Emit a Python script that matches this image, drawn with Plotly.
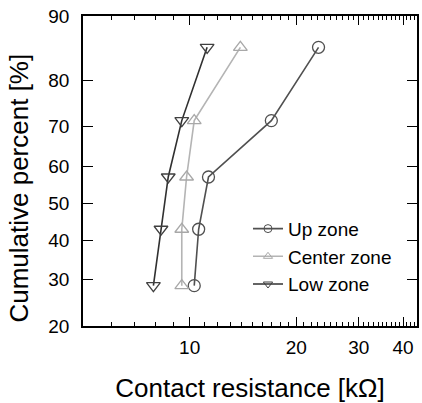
import math
from statistics import NormalDist
import plotly.graph_objects as go

# Data
cum_percent = [28.6, 42.9, 57.1, 71.4, 85.7]
up_zone = [10.3, 10.6, 11.3, 17.0, 23.1]
center_zone = [9.5, 9.5, 9.8, 10.3, 13.9]
low_zone = [7.9, 8.3, 8.7, 9.5, 11.2]

y_tick_percent = [20, 30, 40, 50, 60, 70, 80, 90]
x_tick_vals = [10, 20, 30, 40]
x_minor_vals = [6, 7, 8, 9] + list(range(11, 20)) + list(range(21, 30)) + list(range(31, 40)) + [41, 42, 43]

nd = NormalDist()
def z(p):
    return nd.inv_cdf(p / 100.0)

yz = [z(p) for p in cum_percent]

series = [
    ("Up zone", up_zone, "circle-open", "#505050", "#505050"),
    ("Center zone", center_zone, "triangle-up-open", "#b4b4b4", "#a8a8a8"),
    ("Low zone", low_zone, "triangle-down-open", "#303030", "#404040"),
]

fig = go.Figure()
for name, xs, sym, lc, mc in series:
    fig.add_trace(go.Scatter(
        x=xs, y=yz, name=name, mode="lines+markers", showlegend=False,
        line=dict(color=lc, width=1.6),
        marker=dict(symbol=sym, size=12, color=mc, line=dict(width=1.3, color=mc)),
    ))
# legend entries with smaller symbols, as in the reference
for name, xs, sym, lc, mc in series:
    fig.add_trace(go.Scatter(
        x=[None], y=[None], name=name, mode="lines+markers", showlegend=True,
        line=dict(color=lc, width=1.6),
        marker=dict(symbol=sym, size=8, color=mc, line=dict(width=1, color=mc)),
    ))

font_family = "Liberation Sans, Arial, sans-serif"
fig.update_layout(
    width=422, height=403,
    margin=dict(l=83, r=3, t=16, b=77),
    paper_bgcolor="white", plot_bgcolor="white",
    font=dict(family=font_family, color="black", size=19),
    showlegend=True,
    legend=dict(x=0.494, y=0.375, xanchor="left", yanchor="top",
                bgcolor="rgba(0,0,0,0)", font=dict(size=19),
                tracegroupgap=0, itemsizing="trace", itemwidth=30),
    annotations=[dict(
        text="Cumulative percent [%]", textangle=-90, showarrow=False,
        xref="paper", yref="paper", x=-0.19, y=0.445,
        xanchor="center", yanchor="middle", font=dict(size=26),
    )],
)
fig.update_xaxes(
    type="log", range=[math.log10(5.0), math.log10(43.8)],
    tickmode="array", tickvals=x_tick_vals, ticktext=[str(v) for v in x_tick_vals],
    ticks="inside", ticklen=9, tickwidth=1.3, tickcolor="black",
    showline=True, linecolor="black", linewidth=1.5, mirror="allticks",
    showgrid=False, zeroline=False,
    tickfont=dict(size=19), ticklabelstandoff=3,
    minor=dict(tickmode="array", tickvals=x_minor_vals, ticks="inside", ticklen=4,
               tickwidth=1, tickcolor="black", showgrid=False),
    title=dict(text="Contact resistance [kΩ]", font=dict(size=26), standoff=22),
)
fig.update_yaxes(
    range=[z(20), z(90)],
    tickmode="array", tickvals=[z(p) for p in y_tick_percent],
    ticktext=[str(p) for p in y_tick_percent],
    ticks="inside", ticklen=10, tickwidth=1.3, tickcolor="black",
    showline=True, linecolor="black", linewidth=1.5, mirror="allticks",
    showgrid=False, zeroline=False,
    tickfont=dict(size=19), ticklabelstandoff=8,
)
fig.write_html("out.html")
